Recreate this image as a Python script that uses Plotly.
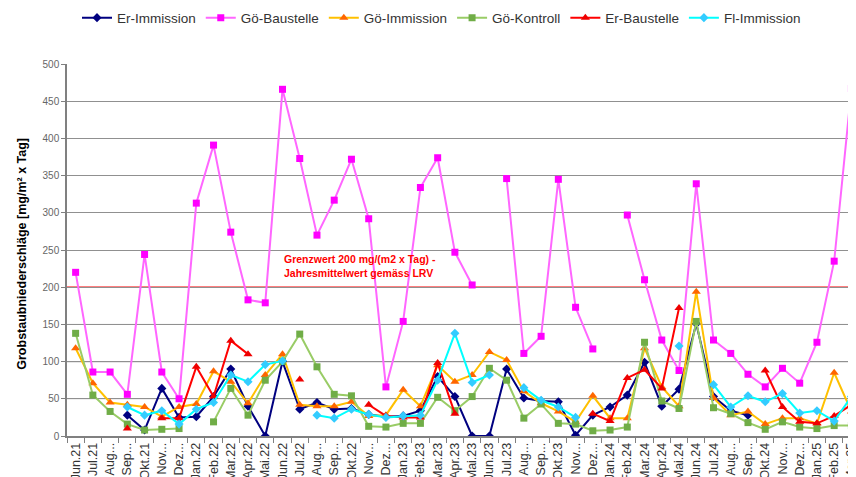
import plotly.graph_objects as go

months = ["Jun.21", "Jul.21", "Aug.21", "Sep.21", "Okt.21", "Nov.21", "Dez.21",
          "Jan.22", "Feb.22", "Mar.22", "Apr.22", "Mai.22", "Jun.22", "Jul.22", "Aug.22", "Sep.22", "Okt.22", "Nov.22", "Dez.22",
          "Jan.23", "Feb.23", "Mar.23", "Apr.23", "Mai.23", "Jun.23", "Jul.23", "Aug.23", "Sep.23", "Okt.23", "Nov.23", "Dez.23",
          "Jan.24", "Feb.24", "Mar.24", "Apr.24", "Mai.24", "Jun.24", "Jul.24", "Aug.24", "Sep.24", "Okt.24", "Nov.24", "Dez.24",
          "Jan.25", "Feb.25", "Mar.25"]
tick_labels = [m if not m[:3] in ("Aug", "Sep", "Nov", "Dez") else m[:3] + "..." for m in months]

er_immission = [None, None, None, 28, 8, 64, 25, 26, 53, 90, 40, 0, 100, 36, 45, 36, 37, 29, 26,
                27, 34, 80, 53, 0, 0, 90, 51, 47, 46, 1, 28,
                39, 55, 99, 40, 63, 151, 53, 34, 28, None, None, None,
                None, None, None]
goe_baustelle = [220, 86, 86, 56, 244, 86, 50, 313, 391, 274, 183, 179, 466, 373, 270, 317, 372, 292, 66,
                 154, 334, 374, 247, 203, None, 346, 111, 134, 345, 173, 117,
                 None, 297, 210, 129, 88, 339, 129, 111, 83, 66, 91, 71,
                 126, 235, 467]
goe_immission = [118, 71, 45, 42, 39, 26, 39, 43, 87, 73, 44, 82, 110, 42, 40, 40, 46, 27, 28,
                 62, 40, 95, 73, 82, 113, 102, 60, 44, 33, 19, 54,
                 24, 24, 118, 66, 40, 194, 51, 28, 33, 16, 24, 24,
                 17, 85, 33]
goe_kontroll = [138, 55, 33, 16, 8, 9, 10, None, 19, 64, 28, 75, 100, 137, 93, 56, 54, 13, 12,
                17, 17, 52, 34, 53, 91, 75, 24, 43, 17, 16, 7,
                8, 12, 126, 47, 37, 154, 38, 30, 18, 9, 19, 12,
                10, 14, 14]
er_baustelle = [None, None, None, 10, None, 24, 24, 93, 53, 128, 110, None, None, 76, None, None, None, 42, 27,
                25, 25, 98, 30, None, None, None, None, None, None, None, 30,
                20, 78, 89, 64, 172, None, None, None, None, 88, 39, 19,
                17, 27, 42]
fl_immission = [None, None, None, 39, 28, 34, 16, 36, 45, 82, 73, 96, 101, None, 28, 24, 36, 29, 25,
                27, 28, 75, 138, 72, 82, None, 65, 48, 39, 25, None,
                None, None, None, None, 121, None, 69, 39, 54, 46, 57, 31,
                34, 20, 53]

series = [
    ("Er-Immission", er_immission, "#000080", "#000080", "diamond", 7),
    ("Gö-Baustelle", goe_baustelle, "#FF66FF", "#FF00FF", "square", 7),
    ("Gö-Immission", goe_immission, "#FFC000", "#FF6600", "triangle-up", 8),
    ("Gö-Kontroll", goe_kontroll, "#99CC66", "#70AD47", "square", 7),
    ("Er-Baustelle", er_baustelle, "#FF0000", "#EE0000", "triangle-up", 8),
    ("Fl-Immission", fl_immission, "#00FFFF", "#33CCFF", "diamond", 7),
]

fig = go.Figure()
for name, vals, lc, mc, sym, sz in series:
    fig.add_trace(go.Scatter(
        x=months, y=vals, name=name, mode="lines+markers",
        line=dict(color=lc, width=2),
        marker=dict(color=mc, symbol=sym, size=sz),
        connectgaps=False,
    ))

font = "Liberation Sans, Arial, sans-serif"

# the page body adds an 8px offset; figure coordinates account for it
L, T, B = 59, 56, 49
PW = 856 - L

fig.add_shape(type="line", xref="paper", x0=0, x1=1, yref="y", y0=200, y1=200,
              line=dict(color="#FF0000", width=1.6), layer="between")
fig.add_shape(type="line", xref="paper", x0=0, x1=1, yref="y", y0=100, y1=100,
              line=dict(color="#000000", width=1), layer="between")
for v in (50, 150):
    fig.add_shape(type="line", xref="paper", x0=0, x1=1, yref="y", y0=v, y1=v,
                  line=dict(color="#C8C8C8", width=1), layer="between")

fig.add_annotation(text="Grenzwert 200 mg/(m2 x Tag) -<br>Jahresmittelwert gemäss LRV",
                   xref="paper", yref="y", x=(274 - L) / PW, y=228,
                   xanchor="left", yanchor="middle", align="left", showarrow=False,
                   font=dict(family=font, size=10.5, color="#FF0000", weight="bold"))

fig.add_annotation(text="Grobstaubniederschläge [mg/m² x Tag]",
                   xref="paper", yref="paper", x=(14 - L) / PW, y=0.49,
                   textangle=-90, showarrow=False, xanchor="center", yanchor="middle",
                   font=dict(family=font, size=12.5, color="#000000", weight="bold"))

fig.update_layout(
    width=856, height=477,
    margin=dict(l=L, r=0, t=T, b=B, autoexpand=False),
    paper_bgcolor="white", plot_bgcolor="white",
    font=dict(family=font),
    showlegend=True,
    legend=dict(orientation="h", x=10 / PW, xanchor="left", y=1.124, yanchor="middle",
                font=dict(family=font, size=13.5, color="#333333"),
                bgcolor="rgba(0,0,0,0)", itemwidth=30),
    xaxis=dict(
        type="category",
        range=[-0.5, -0.5 + PW / 17.24],
        tickmode="array", tickvals=months, ticktext=tick_labels,
        tickangle=-90,
        tickson="boundaries",
        ticks="outside", ticklen=5, tickcolor="#808080",
        showline=True, linecolor="#808080", linewidth=1.5,
        showgrid=False,
        tickfont=dict(family=font, size=12.5, color="#333333"),
    ),
    yaxis=dict(
        range=[0, 500], dtick=50,
        showline=True, linecolor="#808080", linewidth=1.5,
        ticks="outside", ticklen=4, tickcolor="#808080",
        showgrid=True, gridcolor="#909090", gridwidth=1,
        zeroline=False,
        tickfont=dict(family=font, size=10, color="#666666"),
    ),
)

fig.write_html("out.html")
